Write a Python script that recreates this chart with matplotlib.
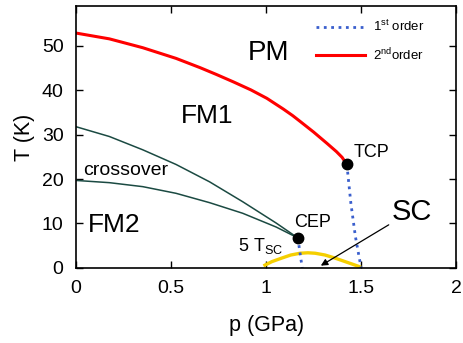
import matplotlib
matplotlib.use("Agg")
from matplotlib import pyplot as plt

plt.rcParams['font.family'] = ['Liberation Sans', 'DejaVu Sans']
plt.rcParams['mathtext.fontset'] = 'custom'
plt.rcParams['mathtext.rm'] = 'Liberation Sans'
plt.rcParams['mathtext.it'] = 'Liberation Sans:italic'

# Second-order PM/FM1 boundary, ending at the tricritical point.
p_second = [0.0, 0.175, 0.351, 0.526, 0.653, 0.737, 0.828, 0.92, 1.004,
            1.09, 1.14, 1.179, 1.25, 1.319, 1.37, 1.40, 1.425]
t_second = [52.9, 51.6, 49.6, 47.2, 45.1, 43.6, 41.9, 40.1, 38.2,
            35.8, 34.3, 33.0, 30.6, 28.1, 26.2, 24.9, 23.3]

# First-order lines below TCP and below CEP.
p_first_tcp = [1.425, 1.446, 1.47, 1.50]
t_first_tcp = [23.3, 14.6, 7.05, 0.0]
p_first_cep = [1.167, 1.19]
t_first_cep = [6.75, 0.0]

# Crossover lines joining at the critical end point.
p_cross = [0.0, 0.175, 0.351, 0.526, 0.702, 0.877, 1.053, 1.167]
t_cross_upper = [31.8, 29.6, 26.6, 23.3, 19.4, 14.9, 10.1, 6.75]
t_cross_lower = [19.7, 19.2, 18.3, 16.8, 14.7, 12.3, 9.2, 6.75]

# Superconducting dome, 5 x Tsc.
p_sc = [0.986, 1.03, 1.082, 1.13, 1.179, 1.22, 1.258, 1.31, 1.363, 1.43, 1.50]
t_sc = [0.45, 1.4, 2.2, 2.9, 3.3, 3.4, 3.3, 2.9, 2.2, 1.2, 0.15]

# Special points.
tcp = (1.425, 23.3)
cep = (1.167, 6.75)

x_ticks = [0, 0.5, 1, 1.5, 2]
x_tick_labels = ["0", "0.5", "1", "1.5", "2"]
y_ticks = [0, 10, 20, 30, 40, 50]

fig = plt.figure(figsize=(4.64, 3.43), dpi=100)
ax = fig.add_axes([0.164, 0.219, 0.819, 0.7635])

blue = "#3a5fcd"
red = "#ff0000"
teal = "#1b4a42"
yellow = "#f5cf00"

ax.plot(p_cross, t_cross_upper, '-', color=teal, lw=1.1)
ax.plot(p_cross, t_cross_lower, '-', color=teal, lw=1.1)
ax.plot(p_sc, t_sc, '-', color=yellow, lw=2.4, solid_capstyle='butt')
ax.plot(p_first_tcp, t_first_tcp, ':', color=blue, lw=2.0, label="1$^{\\mathrm{st}}$ order")
ax.plot(p_first_cep, t_first_cep, ':', color=blue, lw=2.0)
ax.plot(p_second, t_second, '-', color=red, lw=2.2, label="2$^{\\mathrm{nd}}$order")
ax.plot(*tcp, 'o', color='black', ms=7.5, zorder=5)
ax.plot(*cep, 'o', color='black', ms=7.5, zorder=5)

ax.text(1.01, 48.5, "PM", fontsize=20, ha='center', va='center')
ax.text(0.69, 34.3, "FM1", fontsize=19, ha='center', va='center')
ax.text(0.20, 9.7, "FM2", fontsize=19, ha='center', va='center')
ax.text(0.035, 22.0, "crossover", fontsize=14, ha='left', va='center')
ax.text(1.15, 10.3, "CEP", fontsize=13, ha='left', va='center')
ax.text(1.46, 26.0, "TCP", fontsize=13, ha='left', va='center')
ax.text(0.85, 5.0, "5 T$_{\\mathrm{SC}}$", fontsize=13, ha='left', va='center')
ax.annotate("SC", xy=(1.288, 0.5), xytext=(1.66, 12.6), fontsize=21,
            ha='left', va='center',
            arrowprops=dict(arrowstyle='-|>', color='black', lw=0.9,
                            mutation_scale=10, shrinkA=0, shrinkB=0,
                            relpos=(0.0, 0.1)))

ax.set_xlim(0, 2)
ax.set_ylim(0, 59)
ax.set_xticks(x_ticks)
ax.set_xticklabels(x_tick_labels)
ax.set_yticks(y_ticks)
ax.tick_params(direction='in', top=True, right=True, length=5, width=1,
               labelsize=14, pad=9)
for spine in ax.spines.values():
    spine.set_linewidth(1.2)
ax.set_xlabel("p (GPa)", fontsize=15.5, labelpad=13)
ax.set_ylabel("T (K)", fontsize=15.5, labelpad=5)

ax.legend(loc='upper right', frameon=False, fontsize=9.5, handlelength=3.7,
          handletextpad=0.6, labelspacing=0.9, borderaxespad=0.3,
          bbox_to_anchor=(0.94, 0.985))

fig.savefig("out.png", dpi=100)
